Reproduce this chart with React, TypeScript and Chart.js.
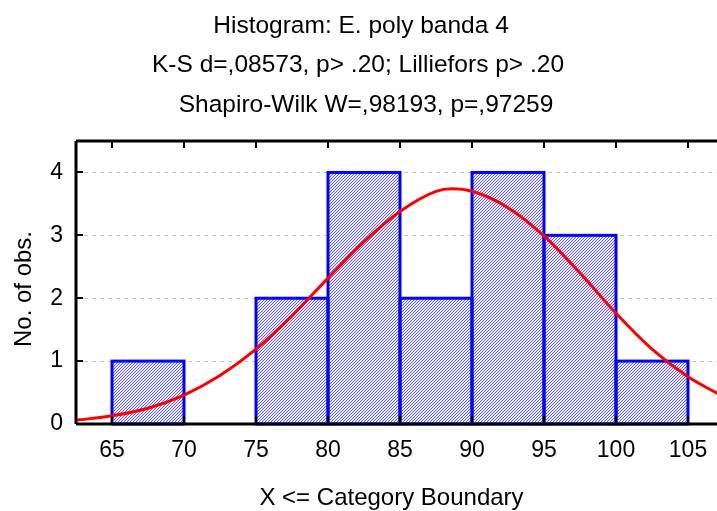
import React, { useEffect, useRef } from "react";
import { Chart, registerables } from "chart.js";

Chart.register(...registerables);

// ---- data ----
const TITLE_LINES = [
  "Histogram: E. poly banda 4",
  "K-S d=,08573, p> .20; Lilliefors p> .20",
  "Shapiro-Wilk W=,98193, p=,97259",
];
const X_TITLE = "X <= Category Boundary";
const Y_TITLE = "No. of obs.";

const binLower = [65, 70, 75, 80, 85, 90, 95, 100];
const binWidth = 5;
const binCounts = [1, 0, 2, 4, 2, 4, 3, 1];

const xTicks = [65, 70, 75, 80, 85, 90, 95, 100, 105];
const yTicks = [0, 1, 2, 3, 4];

// expected normal curve
const curveX = [62.5, 65, 67.5, 70, 72.5, 75, 77.5, 80, 82.5, 85, 87.5, 88.6, 90, 92.5, 95, 97.5, 100, 102.5, 105, 107.5];
const curveY = [0.06, 0.13, 0.25, 0.46, 0.77, 1.19, 1.72, 2.32, 2.9, 3.38, 3.7, 3.74, 3.7, 3.44, 2.99, 2.4, 1.76, 1.19, 0.75, 0.43];

const X_MIN = 62.5;
const X_MAX = 107.5;
const Y_MIN = 0;
const Y_MAX = 4.5;

const FONT = '"Liberation Sans", Arial, sans-serif';
const W = 740;
const H = 511;

function makePattern(ctx: CanvasRenderingContext2D): CanvasPattern | string {
  const pc = document.createElement("canvas");
  pc.width = 3;
  pc.height = 3;
  const p = pc.getContext("2d");
  if (!p) return "#b4b4f2";
  p.fillStyle = "#e6e6fb";
  p.fillRect(0, 0, 3, 3);
  p.fillStyle = "#6a6ae8";
  p.fillRect(2, 0, 1, 1);
  p.fillRect(1, 1, 1, 1);
  p.fillRect(0, 2, 1, 1);
  return ctx.createPattern(pc, "repeat") || "#b4b4f2";
}

const framePlugin = {
  id: "statFrame",
  beforeDatasetsDraw(chart: any) {
    const { ctx, chartArea: a, scales } = chart;
    const y = scales.y;
    ctx.save();
    ctx.strokeStyle = "#c4c4c4";
    ctx.lineWidth = 1;
    ctx.setLineDash([4, 4]);
    yTicks
      .filter((v) => v > 0)
      .forEach((v) => {
        const py = Math.round(y.getPixelForValue(v)) + 0.5;
        ctx.beginPath();
        ctx.moveTo(a.left, py);
        ctx.lineTo(W, py);
        ctx.stroke();
      });
    ctx.restore();
  },
  afterDatasetDraw(chart: any, args: any) {
    if (args.meta.type !== "bar") return;
    const { ctx } = chart;
    ctx.save();
    ctx.strokeStyle = "#0000ff";
    ctx.lineWidth = 3;
    args.meta.data.forEach((el: any, i: number) => {
      if (!binCounts[i]) return;
      const p = el.getProps(["x", "y", "base", "width"], true);
      ctx.strokeRect(p.x - p.width / 2, p.y, p.width, p.base - p.y);
    });
    ctx.restore();
  },
  afterDraw(chart: any) {
    const { ctx, chartArea: a, scales } = chart;
    const x = scales.x;
    const y = scales.y;
    ctx.save();
    ctx.strokeStyle = "#000000";
    ctx.lineWidth = 3;
    ctx.beginPath();
    ctx.moveTo(a.left, a.top);
    ctx.lineTo(W, a.top);
    ctx.moveTo(a.left, a.top);
    ctx.lineTo(a.left, a.bottom);
    ctx.moveTo(a.left, a.bottom);
    ctx.lineTo(W, a.bottom);
    ctx.stroke();

    ctx.lineWidth = 2;
    ctx.beginPath();
    xTicks.forEach((v) => {
      const px = Math.round(x.getPixelForValue(v));
      ctx.moveTo(px, a.top);
      ctx.lineTo(px, a.top + 7);
      ctx.moveTo(px, a.bottom);
      ctx.lineTo(px, a.bottom - 8);
    });
    yTicks
      .filter((v) => v > 0)
      .forEach((v) => {
        const py = Math.round(y.getPixelForValue(v));
        ctx.moveTo(a.left, py);
        ctx.lineTo(a.left + 7, py);
      });
    ctx.stroke();

    // titles
    ctx.fillStyle = "#000000";
    ctx.font = `24.5px ${FONT}`;
    ctx.textAlign = "center";
    ctx.textBaseline = "alphabetic";
    ctx.fillText(TITLE_LINES[0], 361, 33);
    ctx.fillText(TITLE_LINES[1], 358, 72);
    ctx.fillText(TITLE_LINES[2], 366, 111.5);

    ctx.font = `24px ${FONT}`;
    ctx.fillText(X_TITLE, 391.5, 505);

    ctx.translate(31, 289);
    ctx.rotate(-Math.PI / 2);
    ctx.fillText(Y_TITLE, 0, 0);
    ctx.restore();
  },
};

export default function App() {
  const ref = useRef<HTMLCanvasElement | null>(null);

  useEffect(() => {
    const canvas = ref.current;
    if (!canvas) return;
    const ctx = canvas.getContext("2d");
    if (!ctx) return;
    const pattern = makePattern(ctx);

    const chart = new Chart(canvas, {
      type: "bar",
      data: {
        datasets: [
          {
            type: "line",
            data: curveX.map((xv, i) => ({ x: xv, y: curveY[i] })),
            borderColor: "#ff0000",
            borderWidth: 3,
            pointRadius: 0,
            cubicInterpolationMode: "monotone",
            fill: false,
            order: 0,
          } as any,
          {
            type: "bar",
            data: binLower.map((l, i) => ({ x: l + binWidth / 2, y: binCounts[i] })),
            backgroundColor: pattern as any,
            borderWidth: 0,
            barPercentage: 1,
            categoryPercentage: 1,
            order: 1,
          } as any,
        ],
      },
      options: {
        responsive: false,
        animation: false,
        devicePixelRatio: 1,
        events: [],
        layout: { padding: { top: 141, right: W - 724, left: 0, bottom: 0 } },
        plugins: {
          legend: { display: false },
          title: { display: false },
          tooltip: { enabled: false },
        },
        scales: {
          x: {
            type: "linear",
            min: X_MIN,
            max: X_MAX,
            offset: false,
            grid: { display: false, drawTicks: false, offset: false },
            border: { display: false },
            ticks: {
              font: { family: FONT, size: 23 },
              color: "#000000",
              padding: 13,
              maxRotation: 0,
              autoSkip: false,
            },
            afterBuildTicks: (s: any) => {
              s.ticks = xTicks.map((v) => ({ value: v }));
            },
            afterFit: (s: any) => {
              s.height = H - 424;
            },
          },
          y: {
            type: "linear",
            min: Y_MIN,
            max: Y_MAX,
            grid: { display: false, drawTicks: false },
            border: { display: false },
            ticks: {
              font: { family: FONT, size: 23 },
              color: "#000000",
              padding: 13,
            },
            afterBuildTicks: (s: any) => {
              s.ticks = yTicks.map((v) => ({ value: v }));
            },
            afterFit: (s: any) => {
              s.width = 76;
            },
          },
        },
      } as any,
      plugins: [framePlugin],
    });

    return () => chart.destroy();
  }, []);

  return (
    <div
      style={{
        position: "fixed",
        left: 0,
        top: 0,
        width: 717,
        height: 511,
        overflow: "hidden",
        background: "#ffffff",
      }}
    >
      <canvas ref={ref} width={W} height={H} style={{ display: "block", width: W, height: H }} />
    </div>
  );
}
